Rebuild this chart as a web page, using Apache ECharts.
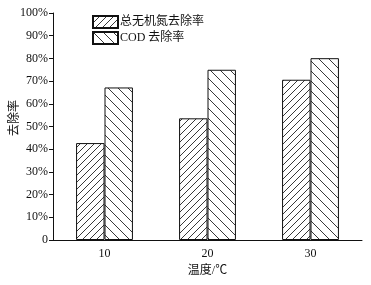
<!DOCTYPE html>
<html><head><meta charset="utf-8">
<script src="https://cdn.jsdelivr.net/npm/echarts@6/dist/echarts.min.js"></script>
<style>html,body{margin:0;padding:0;background:#fff}#c{width:371px;height:285px}</style>
</head><body><div id="c"></div>
<script>
const categories = ['10', '20', '30'];
const tinRemoval = [42.7, 53.6, 70.6];
const codRemoval = [67.2, 75.0, 80.1];
const seriesNames = ['总无机氮去除率', 'COD 去除率'];
const yAxisTitle = '去除率';
const xAxisTitle = '温度/℃';

function hatch(size, dir) {
  const c = document.createElement('canvas');
  c.width = size; c.height = size;
  const g = c.getContext('2d');
  g.fillStyle = '#fff'; g.fillRect(0, 0, size, size);
  g.strokeStyle = '#222'; g.lineWidth = 0.9;
  g.beginPath();
  if (dir === '/') {
    for (const o of [-size, 0, size]) { g.moveTo(o - 1, size + 1); g.lineTo(o + size + 1, -1); }
  } else {
    for (const o of [-size, 0, size]) { g.moveTo(o - 1, -1); g.lineTo(o + size + 1, size + 1); }
  }
  g.stroke();
  return c;
}
const font = '"Liberation Serif","Noto Sans CJK SC",serif';
const chart = echarts.init(document.getElementById('c'), null, {renderer: 'canvas'});
chart.setOption({
  animation: false,
  grid: {left: 53, right: 9, top: 13, bottom: 45, containLabel: false, outerBoundsMode: 'none'},
  legend: {
    orient: 'vertical', left: 92, top: 15, itemGap: 2, padding: 0,
    itemWidth: 25, itemHeight: 12, icon: 'rect',
    textStyle: {fontFamily: font, fontSize: 12, color: '#111', padding: [0, 0, 0, -3]},
    data: seriesNames
  },
  graphic: [{
    type: 'text', x: 15, y: 118, rotation: Math.PI / 2,
    style: {text: yAxisTitle, font: '12px ' + font, fill: '#111', align: 'center', verticalAlign: 'middle'}
  }],
  xAxis: {
    type: 'category', data: categories,
    name: xAxisTitle, nameLocation: 'middle', nameGap: 24,
    nameTextStyle: {fontFamily: font, fontSize: 12, color: '#111'},
    axisLine: {lineStyle: {color: '#111', width: 1}},
    axisTick: {inside: true, length: 4, lineStyle: {color: '#111'}},
    axisLabel: {fontFamily: font, fontSize: 12, color: '#111', margin: 8}
  },
  yAxis: {
    type: 'value', min: 0, max: 100, interval: 10,
    splitLine: {show: false},
    axisLine: {show: true, lineStyle: {color: '#111', width: 1}},
    axisTick: {show: true, length: 4, lineStyle: {color: '#111'}},
    axisLabel: {fontFamily: font, fontSize: 12, color: '#111', margin: 5,
      formatter: v => v === 0 ? '0' : v + '%'}
  },
  series: [
    {name: seriesNames[0], type: 'bar', data: tinRemoval, barWidth: '27.6%', barGap: '0%',
     itemStyle: {color: {image: hatch(7, '/'), repeat: 'repeat'}, borderColor: '#111', borderWidth: 1}},
    {name: seriesNames[1], type: 'bar', data: codRemoval, barWidth: '27.6%', barGap: '0%',
     itemStyle: {color: {image: hatch(10, '\\'), repeat: 'repeat'}, borderColor: '#111', borderWidth: 1}}
  ]
});
</script></body></html>
